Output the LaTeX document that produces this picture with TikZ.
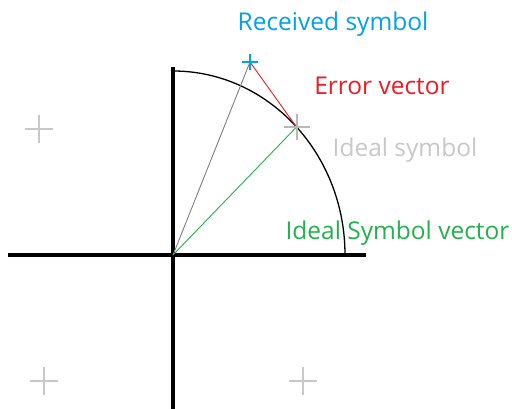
\documentclass[tikz,border=0pt]{standalone}
\usepackage{fontspec}
\setmainfont{Open Sans}
\usetikzlibrary{calc}
\definecolor{pblue}{RGB}{0,162,232}
\definecolor{pred}{RGB}{237,28,36}
\definecolor{pgreen}{RGB}{34,177,76}
\definecolor{plgray}{RGB}{200,200,200}
\definecolor{pdgray}{RGB}{127,127,127}
\begin{document}
\begin{tikzpicture}[x=1pt,y=1pt,
  lbl/.style={font=\fontsize{24.5}{24.5}\selectfont, inner sep=0pt},
  plusmark/.style={line width=2pt, plgray}]
\useasboundingbox (0,0) rectangle (512,409);
\coordinate (O) at (173,154);
\coordinate (I) at (296.5,282);
\coordinate (R) at (250,347);
\coordinate (hL) at (8,154);
\coordinate (hR) at (366,154);
\coordinate (vT) at (173,342);
\coordinate (vB) at (173,0);
% axes
\draw[line width=4pt] (hL) -- (hR);
\draw[line width=4pt] (vB) -- (vT);
% arc
\draw[line width=1.3pt] (345,154) arc[start angle=0, end angle=90, x radius=172, y radius=184];
% vectors
\draw[pdgray, line width=0.9pt] (O) -- (R);
\draw[pgreen, line width=0.9pt] (O) -- (I);
\draw[pred, line width=0.9pt] (R) -- (I);
% ideal symbol plus
\draw[line width=2pt, color=gray!55] ($(I)+(-13,0)$) -- ($(I)+(13,0)$) ($(I)+(0,-13)$) -- ($(I)+(0,13)$);
% received plus
\draw[line width=2pt, pblue] ($(R)+(-8,0)$) -- ($(R)+(8,0)$) ($(R)+(0,-8)$) -- ($(R)+(0,8)$);
% other constellation points
\coordinate (pa) at (39,280);
\coordinate (pb) at (44,28);
\coordinate (pc) at (303,28);
\foreach \n in {pa,pb,pc}{
  \draw[plusmark] ($(\n)+(-14,0)$) -- ($(\n)+(14,0)$) ($(\n)+(0,-14)$) -- ($(\n)+(0,14)$);
}
% labels
\node[lbl, text=pblue] (tR) at (333,385) {Received symbol};
\node[lbl, text=pred] (tE) at (382,323) {Error vector};
\node[lbl, text=plgray] (tI) at (405,259) {Ideal symbol};
\node[lbl, text=pgreen] (tV) at (397.5,176) {Ideal Symbol vector};
\end{tikzpicture}
\end{document}
